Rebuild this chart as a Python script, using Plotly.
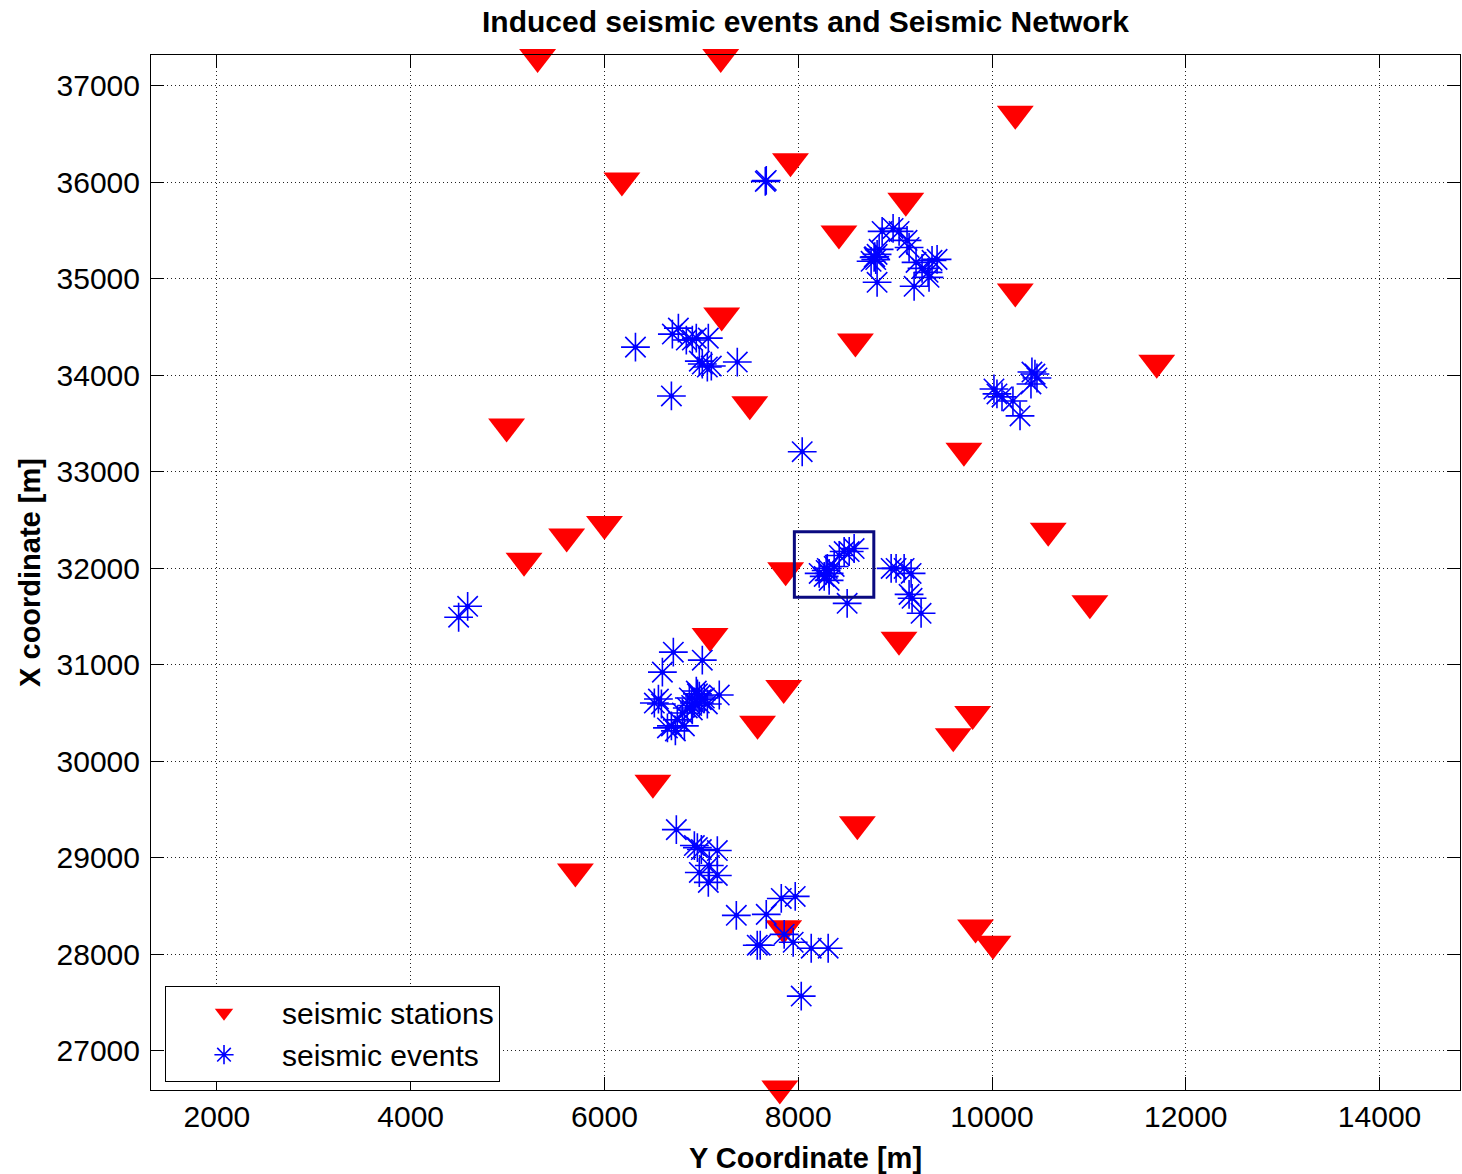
import plotly.graph_objects as go

# Seismic stations (horizontal "Y Coordinate", vertical "X coordinate"), metres
station_Y = [5310, 7200, 10240, 7920, 6180, 9110, 8420, 10240, 7210, 8590, 11700,
             7500, 4990, 9710, 6000, 5610, 10580, 5170, 7870, 11010, 7090, 9040,
             7850, 9800, 7580, 9600, 6500, 8610, 5700, 9830, 7850, 10010, 7810]
station_X = [37300, 37300, 36710, 36220, 36020, 35810, 35470, 34870, 34620, 34350, 34130,
             33700, 33470, 33220, 32460, 32330, 32390, 32080, 31980, 31640, 31300, 31260,
             30760, 30490, 30390, 30260, 29780, 29350, 28860, 28280, 28270, 28110, 26610]

# Induced seismic events
event_Y = [7660, 7670,
           8866, 8979, 9041, 9123, 9144, 8783, 8790, 8814, 8752, 8835, 8800, 9216, 9381,
           9340, 9350, 9278, 8814, 9196, 9433,
           6320, 6701, 6763, 6845, 6907, 6948, 7072, 7010, 7062, 7103, 7371, 6691, 6979,
           8041,
           10020, 10051, 10103, 10216, 10289, 10443, 10464, 10412, 10402,
           8288, 8319, 8268, 8216, 8371, 8423, 8474, 8526, 8577, 8319, 8300, 8505,
           8959, 9010, 9093, 9165, 9175, 9144, 9268,
           4588, 4495,
           6711, 7010, 6598, 6557, 6515, 6588, 7185, 6876, 6928, 6979, 6948, 6855, 7031,
           6804, 7062, 6907, 6752, 6691, 6825, 6732, 6650, 6979, 7000, 6960, 6900,
           6742, 6928, 6959, 7000, 7165, 7082, 6979, 7072, 7165, 7361, 7670, 7825, 7969,
           7608, 7577, 7855, 7948, 8134, 8309, 8031]
event_X = [36010, 36020,
           35492, 35523, 35492, 35399, 35326, 35223, 35230, 35254, 35182, 35306, 35200, 35171, 35192,
           35068, 35016, 35109, 34965, 34923, 35202,
           34293, 34428, 34490, 34366, 34366, 34386, 34386, 34118, 34087, 34097, 34138, 33787, 34148,
           33209,
           33859, 33808, 33777, 33735, 33580, 34014, 33973, 34035, 33911,
           31979, 31948, 31917, 31948, 32020, 32134, 32175, 32175, 32206, 31876, 32000, 31638,
           32000, 32000, 32000, 31948, 31690, 31731, 31535,
           31607, 31494,
           31132, 31049, 30925, 30646, 30605, 30595, 30688, 30657, 30605, 30677, 30729, 30554, 30657,
           30502, 30595, 30533, 30430, 30368, 30368, 30316, 30347, 30605, 30640, 30700, 30580,
           29293, 29128, 29107, 29087, 29076, 28921, 28849, 28746, 28818, 28405, 28415, 28580, 28601,
           28095, 28095, 28208, 28126, 28064, 28064, 27568]

# Highlighted area (rectangle)
box_Y = [7960, 8780]
box_X = [31700, 32380]

x_ticks = [2000, 4000, 6000, 8000, 10000, 12000, 14000]
y_ticks = [27000, 28000, 29000, 30000, 31000, 32000, 33000, 34000, 35000, 36000, 37000]

FONT = "Liberation Sans, Arial, sans-serif"

fig = go.Figure()

fig.add_trace(go.Scatter(
    x=station_Y, y=station_X, mode="markers", name="seismic stations",
    marker=dict(symbol="triangle-down", size=32, color="#ff0000", line=dict(width=0)),
    cliponaxis=False))

fig.add_trace(go.Scatter(
    x=event_Y, y=event_X, mode="markers", name="seismic events",
    marker=dict(symbol="asterisk-open", size=24, color="#0000ff",
                line=dict(color="#0000ff", width=1.6)),
    cliponaxis=False))

fig.add_trace(go.Scatter(
    x=event_Y, y=event_X, mode="markers", showlegend=False, hoverinfo="skip",
    marker=dict(symbol="circle", size=5, color="#0000ff", line=dict(width=0)),
    cliponaxis=False))

fig.add_shape(type="rect", x0=box_Y[0], x1=box_Y[1], y0=box_X[0], y1=box_X[1],
              xref="x", yref="y", line=dict(color="#0a0a80", width=3), layer="above")

axis_common = dict(
    showline=True, linecolor="black", linewidth=1, mirror="ticks",
    ticks="inside", ticklen=13, tickcolor="black", tickwidth=1,
    showgrid=True, gridcolor="#222222", gridwidth=1, griddash="1px,3px",
    zeroline=False, tickformat="d",
    tickfont=dict(family=FONT, size=30, color="black"),
)

fig.update_xaxes(range=[1320, 14830], tickvals=x_ticks, ticklabelstandoff=0,
                 title=dict(text="<b>Y Coordinate [m]</b>", standoff=20,
                            font=dict(family=FONT, size=29, color="black")),
                 **axis_common)
fig.update_yaxes(range=[26595, 37320], tickvals=y_ticks, ticklabelstandoff=4,
                 title=dict(text="<b>X coordinate [m]</b>", standoff=7,
                            font=dict(family=FONT, size=29, color="black")),
                 **axis_common)

fig.update_layout(
    width=1462, height=1174,
    margin=dict(l=151, r=1, t=55, b=81),
    paper_bgcolor="white", plot_bgcolor="white",
    title=dict(text="<b>Induced seismic events and Seismic Network</b>",
               x=0.5, xref="paper", y=1 - 21 / 1174, yref="container", yanchor="middle",
               font=dict(family=FONT, size=30, color="black")),
    legend=dict(x=0.0107, y=0.008, xanchor="left", yanchor="bottom",
                bgcolor="white", bordercolor="black", borderwidth=1,
                itemwidth=106, font=dict(family=FONT, size=30, color="black"),
                tracegroupgap=0),
    showlegend=True,
)

fig.write_html("out.html")
